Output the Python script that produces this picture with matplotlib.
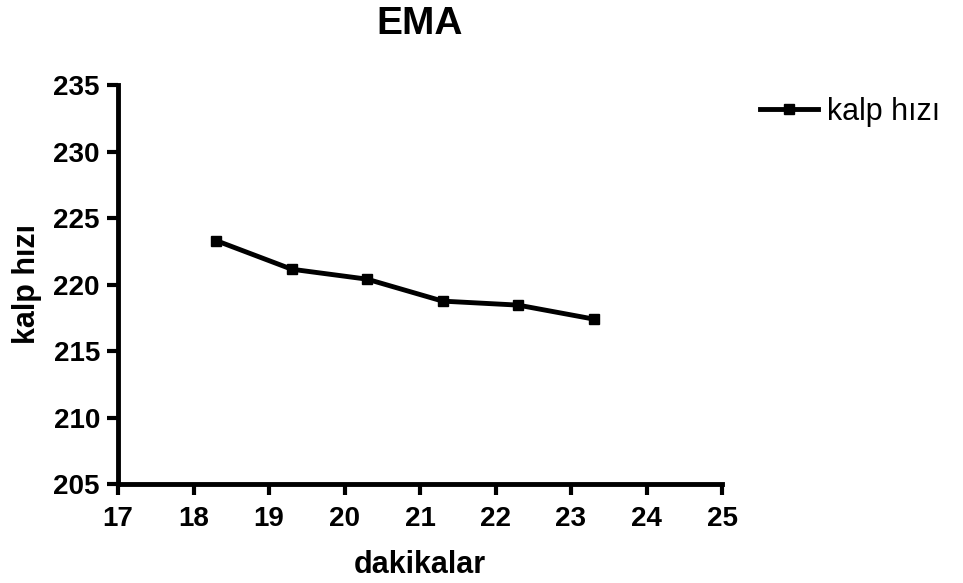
import matplotlib
matplotlib.use("Agg")
import matplotlib.pyplot as plt

plt.rcParams['font.family'] = ['Liberation Sans', 'DejaVu Sans']

# Data
minutes = [18.3, 19.3, 20.3, 21.3, 22.3, 23.3]
heart_rate = [223.3, 221.15, 220.4, 218.75, 218.45, 217.4]
x_ticks = [17, 18, 19, 20, 21, 22, 23, 24, 25]
y_ticks = [205, 210, 215, 220, 225, 230, 235]
series_label = "kalp hızı"
title = "EMA"
x_label = "dakikalar"
y_label = "kalp hızı"

fig = plt.figure(figsize=(9.63, 5.83), dpi=100)
ax = fig.add_axes([118/963, 1 - 484/583, (722 - 118)/963, (484 - 85)/583])

ax.plot(minutes, heart_rate, color='black', lw=3.5, marker='s', markersize=7,
        label=series_label, clip_on=False)

ax.set_xlim(17, 25)
ax.set_ylim(205, 235)
ax.set_xticks(x_ticks)
ax.set_yticks(y_ticks)

for s in ['top', 'right']:
    ax.spines[s].set_visible(False)
for s in ['left', 'bottom']:
    ax.spines[s].set_linewidth(3.5)

ax.tick_params(direction='out', length=8, width=3, labelsize=20)
ax.tick_params(axis='x', pad=8)
ax.tick_params(axis='y', pad=5)
for lab in ax.get_xticklabels() + ax.get_yticklabels():
    lab.set_fontweight('bold')

ax.set_xlabel(x_label, fontsize=22, fontweight='bold', labelpad=13)
ax.set_ylabel(y_label, fontsize=22, fontweight='bold', labelpad=8)
ax.set_title(title, fontsize=28, fontweight='bold', pad=37)

fig.legend(loc='center left', bbox_to_anchor=(760/963, 1 - 112/583),
           frameon=False, fontsize=22, handlelength=1.9, handletextpad=0.3,
           borderpad=0, borderaxespad=0)

fig.savefig("out.png", dpi=100)
